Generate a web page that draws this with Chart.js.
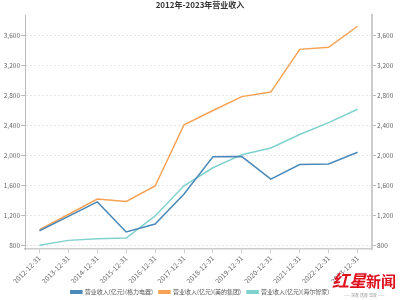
<!DOCTYPE html>
<html>
<head>
<meta charset="utf-8">
<script src="https://cdn.jsdelivr.net/npm/chart.js@4"></script>
<style>
  html, body { margin: 0; padding: 0; background: #fff; }
  #wrap { position: relative; width: 400px; height: 300px; }
  #wm { position: absolute; left: 332px; top: 271px; font-family: "Noto Sans CJK SC"; color: #e0101e; font-weight: 700; font-size: 15px; line-height: 17px; white-space: nowrap; }
  #wm .big { font-size: 17px; font-style: italic; }
  #wm2 { position: absolute; left: 333px; top: 293px; width: 62px; font-family: "Noto Sans CJK SC"; color: #999; font-size: 4px; line-height: 5px; text-align: center; white-space: nowrap; }
</style>
</head>
<body>
<div id="wrap">
<canvas id="c" width="400" height="300"></canvas>
<div id="wm"><span class="big">红星</span>新闻</div>
<div id="wm2">—— 深度 透度 温度 ——</div>
</div>
<script>
const titleText = "2012年-2023年营业收入";
const categories = ["2012-12-31","2013-12-31","2014-12-31","2015-12-31","2016-12-31","2017-12-31","2018-12-31","2019-12-31","2020-12-31","2021-12-31","2022-12-31","2023-12-31"];
const seriesNames = ["营业收入(亿元)(格力电器)","营业收入(亿元)(美的集团)","营业收入(亿元)(海尔智家)"];
const greeValues = [993, 1186, 1378, 977, 1083, 1483, 1981, 1982, 1682, 1876, 1884, 2040];
const mideaValues = [1009, 1210, 1417, 1384, 1590, 2407, 2597, 2782, 2842, 3412, 3439, 3720];
const haierValues = [799, 865, 888, 897, 1191, 1593, 1833, 2008, 2097, 2276, 2435, 2614];
const yTicks = [800, 1200, 1600, 2000, 2400, 2800, 3200, 3600];
const yMin = 750, yMax = 3870;

const colors = ["#4a89b9", "#f7a153", "#7fd2ce"];
const fontFam = '"Noto Sans CJK SC", "Noto Sans", sans-serif';

function fmt(v){ return v.toLocaleString('en-US'); }

const yCommon = {
  type: 'linear', min: yMin, max: yMax,
  afterBuildTicks: s => { s.ticks = yTicks.map(v => ({value: v})); },
  ticks: { color: '#666', font: { family: fontFam, size: 6.5 }, padding: 1, callback: v => fmt(v) },
};

new Chart(document.getElementById('c'), {
  type: 'line',
  data: {
    labels: categories,
    datasets: [
      { label: seriesNames[0], data: greeValues, borderColor: colors[0], backgroundColor: colors[0], yAxisID: 'y' },
      { label: seriesNames[1], data: mideaValues, borderColor: colors[1], backgroundColor: colors[1], yAxisID: 'y' },
      { label: seriesNames[2], data: haierValues, borderColor: colors[2], backgroundColor: colors[2], yAxisID: 'y' },
    ]
  },
  options: {
    responsive: false,
    animation: false,
    devicePixelRatio: 1,
    layout: { padding: { left: 0, right: 0, top: 0, bottom: -5 } },
    elements: { line: { borderWidth: 1.5, tension: 0 }, point: { radius: 0 } },
    plugins: {
      title: { display: true, text: titleText, color: '#333', font: { family: fontFam, size: 8, weight: 'bold', lineHeight: 1.2 }, padding: { top: 0, bottom: 5.4 } },
      legend: { position: 'bottom', labels: { color: '#555', font: { family: fontFam, size: 6 }, boxWidth: 11, boxHeight: 2.5, padding: 6 } },
      tooltip: { enabled: false }
    },
    scales: {
      x: {
        type: 'category', offset: true,
        grid: { display: true, drawOnChartArea: false, color: '#ccc', tickLength: 4 },
        border: { color: '#ccc', width: 1.5 },
        ticks: { color: '#666', font: { family: fontFam, size: 7 }, minRotation: 45, maxRotation: 45, padding: 1, autoSkip: false },
        afterFit: s => { s.height = 34; }
      },
      y: Object.assign({}, yCommon, {
        position: 'left',
        grid: { color: '#e6e6e6', tickLength: 4, tickBorderDash: [], tickColor: '#bbb' },
        border: { color: '#bbb', width: 1, dash: [2, 2] },
        afterFit: s => { s.width = 25; }
      }),
      y2: Object.assign({}, yCommon, {
        position: 'right',
        grid: { drawOnChartArea: false, tickLength: 4, color: '#bbb' },
        border: { color: '#ccc', width: 2 },
        afterFit: s => { s.width = 28; }
      })
    }
  }
});
</script>
</body>
</html>
